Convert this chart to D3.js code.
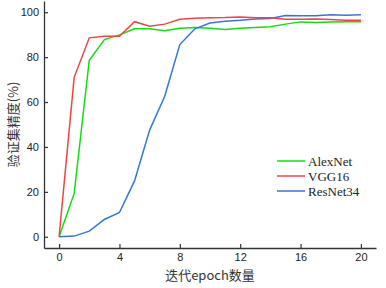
<!DOCTYPE html>
<html>
<head>
<meta charset="utf-8">
<script src="https://cdn.jsdelivr.net/npm/d3@7"></script>
<style>
  body { margin: 0; background: #fff; }
  svg { display: block; }
  .tick text { font-family: 'Liberation Sans', Arial, sans-serif; font-size: 11px; fill: #222; }
  .axis-name { font-family: 'Noto Sans CJK SC', sans-serif; font-size: 13px; fill: #333; }
  .legend text { font-family: 'Liberation Serif', 'Times New Roman', serif; font-size: 13px; fill: #222; }
</style>
</head>
<body>
<div id="chart"></div>
<script>
// Data
const epochs = d3.range(0, 21);
const seriesNames = ['AlexNet', 'VGG16', 'ResNet34'];
const alexnet = [0, 19.3, 78.6, 87.8, 89.9, 92.6, 92.6, 91.8, 92.9, 93.2, 92.9, 92.3, 92.9, 93.2, 93.5, 94.7, 95.7, 95.4, 95.7, 95.8, 95.8];
const vgg16 = [0, 71, 88.6, 89.3, 89.3, 95.8, 93.8, 94.7, 96.9, 97.3, 97.5, 97.6, 97.9, 97.5, 97.5, 96.9, 96.9, 97, 96.8, 96.4, 96.4];
const resnet34 = [0, 0.3, 2.5, 7.7, 10.8, 24.9, 47.5, 62.6, 85.6, 92.6, 95.2, 96, 96.4, 97, 97.2, 98.5, 98.4, 98.4, 98.9, 98.7, 98.9];
const xTicks = [0, 4, 8, 12, 16, 20];
const yTicks = [0, 20, 40, 60, 80, 100];
const colors = ['#11dd11', '#f04444', '#3377dd'];

const W = 386, H = 288;
const margin = { l: 44, r: 10, t: 1, b: 40 };
const width = W - margin.l - margin.r;
const height = H - margin.t - margin.b;

const svg = d3.select('#chart')
  .append('svg')
  .attr('width', W)
  .attr('height', H)
  .append('g')
  .attr('transform', `translate(${margin.l}, ${margin.t})`);

const x = d3.scaleLinear([-1, 21], [0, width]);
const y = d3.scaleLinear([-5, 105], [height, 0]);

// axes, ticks pointing inward
const xAxis = svg.append('g')
  .attr('transform', `translate(0, ${height})`)
  .call(d3.axisBottom(x).tickValues(xTicks).tickSize(-4).tickSizeOuter(0).tickPadding(5));
const yAxis = svg.append('g')
  .call(d3.axisLeft(y).tickValues(yTicks).tickSize(-4).tickSizeOuter(0).tickPadding(5));
[xAxis, yAxis].forEach((a) => {
  a.select('.domain').attr('stroke', '#333').attr('stroke-width', 1.3);
  a.selectAll('.tick line').attr('stroke', '#333').attr('stroke-width', 1.2);
});

const allSeries = [alexnet, vgg16, resnet34];
const line = d3.line()
  .x((d, i) => x(epochs[i]))
  .y((d) => y(d));

// draw in order green, blue, red so red sits above
[0, 2, 1].forEach((k) => {
  svg.append('path')
    .datum(allSeries[k])
    .attr('fill', 'none')
    .attr('stroke', colors[k])
    .attr('stroke-width', 1.5)
    .attr('d', line);
});

// legend
const legend = svg.append('g')
  .attr('class', 'legend')
  .attr('transform', `translate(${277 - margin.l}, ${161 - margin.t})`);
seriesNames.forEach((name, i) => {
  const g = legend.append('g').attr('transform', `translate(0, ${i * 15})`);
  g.append('line')
    .attr('x1', 0).attr('x2', 28)
    .attr('stroke', colors[i])
    .attr('stroke-width', 1.5);
  g.append('text')
    .attr('x', 31)
    .attr('dy', '0.35em')
    .text(name);
});

// x-axis name
svg.append('text')
  .attr('class', 'axis-name')
  .attr('text-anchor', 'middle')
  .attr('transform', `translate(${x(10)}, ${height + 32})`)
  .text('迭代epoch数量');
// y-axis name
svg.append('text')
  .attr('class', 'axis-name')
  .attr('text-anchor', 'middle')
  .attr('transform', `translate(${-margin.l + 18}, ${y(50)}) rotate(-90)`)
  .text('验证集精度(%)');
</script>
</body>
</html>
